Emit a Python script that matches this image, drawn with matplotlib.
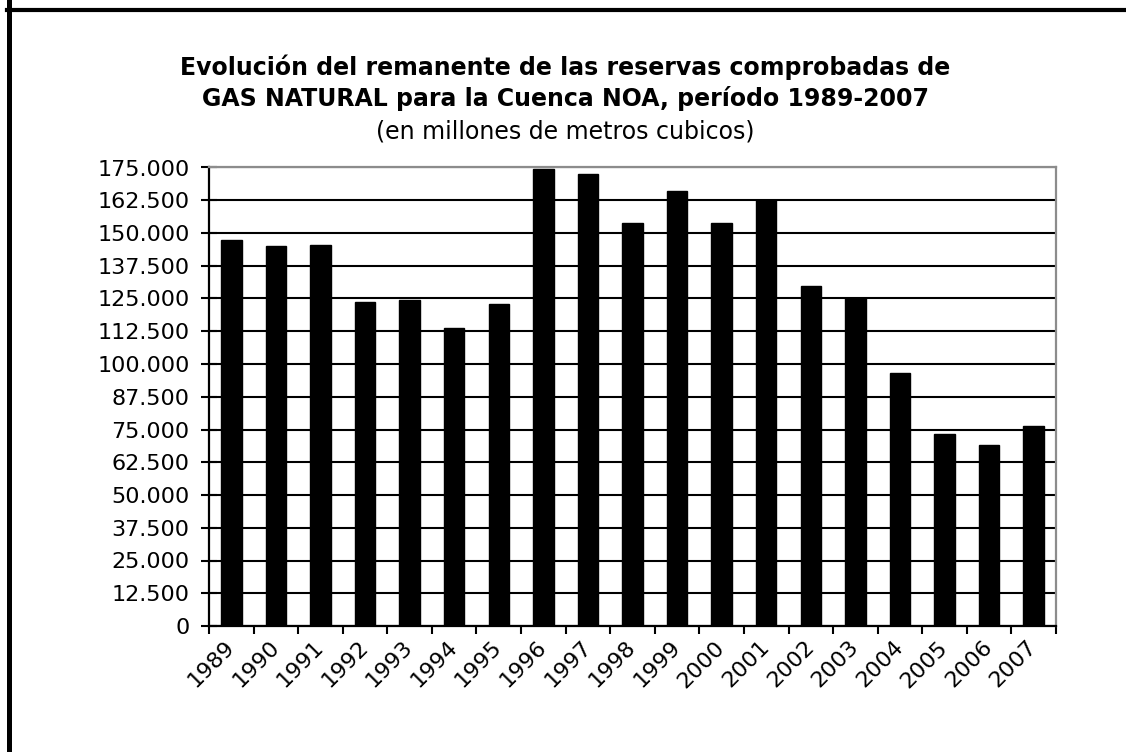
import matplotlib
matplotlib.use("Agg")
import matplotlib.pyplot as plt
import numpy as np
from matplotlib.lines import Line2D
from matplotlib.ticker import FuncFormatter, MultipleLocator

# ---- data (millones de m3) ----
years = ["1989", "1990", "1991", "1992", "1993", "1994", "1995", "1996", "1997", "1998",
         "1999", "2000", "2001", "2002", "2003", "2004", "2005", "2006", "2007"]
reservas = [147300, 145000, 145400, 123600, 124500, 113900, 122800, 174400, 172600, 153900,
            165900, 153900, 162600, 129900, 125100, 96500, 73200, 69100, 76200]

title_l1 = "Evolución del remanente de las reservas comprobadas de"
title_l2 = "GAS NATURAL para la Cuenca NOA, período 1989-2007"
subtitle = "(en millones de metros cubicos)"

W, H = 1126, 752
plt.rcParams["font.family"] = ["DejaVu Sans"]

fig = plt.figure(figsize=(W / 100, H / 100), dpi=100)
fig.patch.set_facecolor("white")

ax = fig.add_axes([209 / W, 1 - 626 / H, (1056 - 209) / W, (626 - 167.5) / H])

x = np.arange(len(years))
ax.bar(x, reservas, width=0.46, color="black", edgecolor="black", zorder=3)

ax.set_xlim(-0.5, len(years) - 0.5)
ax.set_ylim(0, 175000)
ax.yaxis.set_major_locator(MultipleLocator(12500))
ax.yaxis.set_major_formatter(FuncFormatter(lambda v, p: f"{int(round(v)):,}".replace(",", ".")))
ax.set_axisbelow(True)
ax.yaxis.grid(True, color="black", lw=1.5)

# ticks x en los limites de cada categoria, etiquetas en el centro
ax.set_xticks(np.arange(len(years) + 1) - 0.5)
ax.set_xticklabels([])
ax.set_xticks(x, minor=True)
ax.set_xticklabels(years, minor=True, rotation=45, ha="right", va="center",
                   rotation_mode="anchor", fontsize=16)
ax.tick_params(axis="x", which="major", direction="out", length=6, width=1.5)
ax.tick_params(axis="x", which="minor", length=0, pad=13)
ax.tick_params(axis="y", direction="inout", length=12, width=1.5, labelsize=16, pad=8)

for s in ["left", "bottom"]:
    ax.spines[s].set_color("black")
    ax.spines[s].set_linewidth(1.6)
for s in ["top", "right"]:
    ax.spines[s].set_color("#8c8c8c")
    ax.spines[s].set_linewidth(1.6)

# titulo
tx = 565 / W
fig.text(tx, 1 - 75 / H, title_l1, ha="center", va="baseline", fontsize=17,
         fontweight="bold")
fig.text(tx, 1 - 106 / H, title_l2, ha="center", va="baseline", fontsize=17,
         fontweight="bold")
fig.text(tx, 1 - 138 / H, subtitle, ha="center", va="baseline", fontsize=17)

# borde del recuadro (recortado)
fig.add_artist(Line2D([8.5 / W, 8.5 / W], [0, 1], transform=fig.transFigure,
                      color="black", lw=3.6))
fig.add_artist(Line2D([7 / W, 1], [1 - 10 / H, 1 - 10 / H], transform=fig.transFigure,
                      color="black", lw=3.0))

fig.savefig("out.png", dpi=100, facecolor="white")
